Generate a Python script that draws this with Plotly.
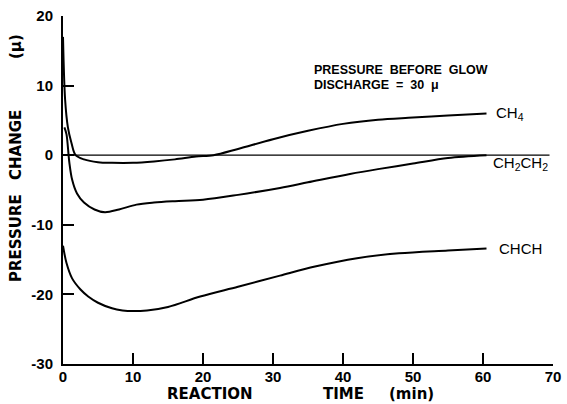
import plotly.graph_objects as go

# Data (time in min, pressure change in microns)
ch4_t = [0, 0.3, 0.7, 1.2, 1.8, 3, 5, 7, 10, 13, 16, 19, 21.5, 25, 30, 35, 40, 45, 50, 55, 60.5]
ch4_v = [17, 8, 4, 1.8, 0, -0.6, -1.0, -1.1, -1.1, -0.9, -0.6, -0.2, 0, 0.9, 2.3, 3.5, 4.5, 5.1, 5.4, 5.7, 6.0]

c2h4_t = [0.2, 0.5, 0.9, 1.3, 2, 3, 4.5, 6, 8, 10.5, 13, 16, 20, 25, 31, 35, 41, 45, 50, 55, 60.5]
c2h4_v = [4, 3, -1, -3.5, -5.5, -6.8, -7.8, -8.2, -7.8, -7.1, -6.8, -6.6, -6.4, -5.7, -4.7, -3.9, -2.7, -2.0, -1.2, -0.4, 0]

c2h2_t = [0, 0.5, 1.3, 2.5, 3.6, 5, 7, 8.5, 10, 12, 15, 19.6, 25, 31, 36, 42, 48, 55, 60.5]
c2h2_v = [-13, -15.5, -17.7, -19.3, -20.3, -21.2, -22, -22.3, -22.4, -22.3, -21.8, -20.3, -18.9, -17.3, -16.0, -14.8, -14.1, -13.7, -13.4]

zero_t = [0, 69.5]
zero_v = [0, 0]

x_ticks = [0, 10, 20, 30, 40, 50, 60, 70]
y_ticks = [-30, -20, -10, 0, 10, 20]

series_labels = ["CH<sub>4</sub>", "CH<sub>2</sub>CH<sub>2</sub>", "CHCH"]
label_pos = [(61.5, 6.0), (61.2, -1.2), (62.0, -13.4)]

FONT = "Liberation Sans, Arial, sans-serif"
WIDE = "DejaVu Sans, Liberation Sans, sans-serif"

fig = go.Figure()
line = dict(color="black", width=2, shape="spline", smoothing=0.9)
fig.add_trace(go.Scatter(x=zero_t, y=zero_v, mode="lines", line=dict(color="black", width=1.3), hoverinfo="skip"))
fig.add_trace(go.Scatter(x=ch4_t, y=ch4_v, mode="lines", line=line, name="CH4"))
fig.add_trace(go.Scatter(x=c2h4_t, y=c2h4_v, mode="lines", line=line, name="CH2CH2"))
fig.add_trace(go.Scatter(x=c2h2_t, y=c2h2_v, mode="lines", line=line, name="CHCH"))

annotations = []
for txt, (x, y) in zip(series_labels, label_pos):
    annotations.append(dict(x=x, y=y, text=txt, showarrow=False, xanchor="left", yanchor="middle",
                            font=dict(family=FONT, size=15, color="black")))

annotations.append(dict(x=35.6, y=12.3, text="PRESSURE  BEFORE  GLOW", showarrow=False, xanchor="left",
                        yanchor="middle", font=dict(family=FONT, size=12.5, color="black", weight="bold")))
annotations.append(dict(x=35.6, y=10.1, text="DISCHARGE  =  30  μ", showarrow=False, xanchor="left",
                        yanchor="middle", font=dict(family=FONT, size=12.5, color="black", weight="bold")))

L, R, T, B = 63, 14, 16, 40
W, H = 567, 404
pw, ph = W - L - R, H - T - B

title_font = dict(family=WIDE, size=15, color="black", weight="bold")
# y-axis title words, placed at pixel positions of the original
for word, ypx in [("PRESSURE", 238), ("CHANGE", 145), ("(μ)", 47)]:
    annotations.append(dict(x=(16 - L) / pw, y=(H - B - ypx) / ph, xref="paper", yref="paper",
                            xanchor="center", yanchor="middle",
                            text=word, showarrow=False, textangle=-90, font=title_font))
# x-axis title words
for word, xpx in [("REACTION", 210), ("TIME", 343), ("(min)", 411)]:
    annotations.append(dict(x=(xpx - L) / pw, y=(H - B - 394) / ph, xref="paper", yref="paper",
                            xanchor="center", yanchor="middle",
                            text=word, showarrow=False, font=title_font))

fig.update_layout(
    width=W, height=H,
    margin=dict(l=L, r=R, t=T, b=B),
    plot_bgcolor="white", paper_bgcolor="white",
    showlegend=False,
    annotations=annotations,
    font=dict(family=FONT, color="black"),
)
fig.update_xaxes(range=[0, 70], tickvals=x_ticks, ticktext=[str(v) for v in x_ticks],
                 showgrid=False, zeroline=False, showline=True, linecolor="black", linewidth=2,
                 ticks="inside", ticklen=11, tickwidth=1.5, tickcolor="black", automargin=False,
                 ticklabelstandoff=-2,
                 tickfont=dict(family=FONT, size=15, color="black", weight="bold"))
fig.update_yaxes(range=[-30, 20], tickvals=y_ticks, ticktext=[str(v) for v in y_ticks],
                 showgrid=False, zeroline=False, showline=True, linecolor="black", linewidth=2,
                 ticks="inside", ticklen=11, tickwidth=1.5, tickcolor="black", automargin=False,
                 ticklabelstandoff=5,
                 tickfont=dict(family=FONT, size=15, color="black", weight="bold"))

fig.write_html("out.html", config={"displayModeBar": False},
               post_script="document.body.style.margin='0';document.body.style.overflow='hidden';")
